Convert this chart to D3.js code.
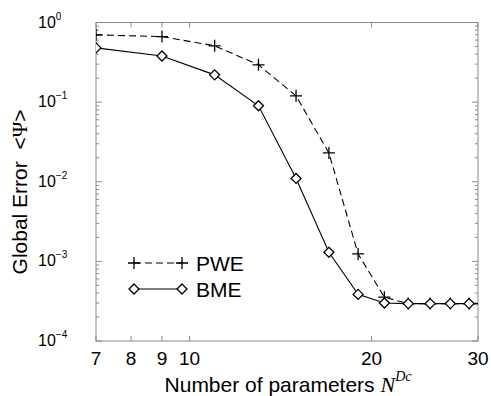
<!DOCTYPE html>
<html>
<head>
<meta charset="utf-8">
<title>Global error vs parameters</title>
<style>
  body { margin: 0; background: #fff; }
  text { font-family: "Liberation Sans", Arial, sans-serif; fill: #000; }
</style>
</head>
<body>
<script src="https://d3js.org/d3.v7.min.js"></script>
<script>

// data
var nParams = [7, 9, 11, 13, 15, 17, 19, 21, 23, 25, 27, 29, 31];
var pwe = [0.70, 0.665, 0.51, 0.294, 0.12, 0.023, 1.24e-3, 3.55e-4, 2.95e-4, 2.95e-4, 2.95e-4, 2.95e-4, 2.95e-4];
var bme = [0.48, 0.38, 0.22, 0.090, 0.011, 1.30e-3, 3.85e-4, 3.0e-4, 2.95e-4, 2.95e-4, 2.95e-4, 2.95e-4, 2.95e-4];
var xTicks = [7, 8, 9, 10, 20, 30];
var yTicks = [1, 1e-1, 1e-2, 1e-3, 1e-4];
var yExp = ["0", "\u22121", "\u22122", "\u22123", "\u22124"];

var width = 491, height = 396;
var pLeft = 96, pRight = 478, pTop = 22.5, pBottom = 341;

var svg = d3.select("body")
    .append("svg")
    .attr("width", width)
    .attr("height", height);

var x = d3.scaleLog().domain([7, 30]).range([pLeft, pRight]);
var y = d3.scaleLog().domain([1e-4, 1]).range([pBottom, pTop]);

svg.append("clipPath").attr("id", "clip")
  .append("rect")
    .attr("x", pLeft).attr("y", pTop)
    .attr("width", pRight - pLeft).attr("height", pBottom - pTop);

var axisCol = "#8a8a8a";

// frame
svg.append("rect")
    .attr("x", pLeft).attr("y", pTop)
    .attr("width", pRight - pLeft).attr("height", pBottom - pTop)
    .attr("fill", "none")
    .attr("stroke", axisCol)
    .attr("stroke-width", 1);

// x ticks, top and bottom
xTicks.forEach(function(t){
  svg.append("line").attr("x1", x(t)).attr("x2", x(t))
    .attr("y1", pBottom).attr("y2", pBottom - 5).attr("stroke", axisCol);
  svg.append("line").attr("x1", x(t)).attr("x2", x(t))
    .attr("y1", pTop).attr("y2", pTop + 5).attr("stroke", axisCol);
  svg.append("text")
    .attr("x", x(t)).attr("y", 365)
    .attr("text-anchor", "middle")
    .attr("font-size", 19)
    .text(t);
});

// y ticks, major and minor on both sides
var minor = [];
for (var e = -4; e < 0; e++) {
  for (var m = 2; m < 10; m++) minor.push(m * Math.pow(10, e));
}
minor.forEach(function(v){
  svg.append("line").attr("x1", pLeft).attr("x2", pLeft + 3)
    .attr("y1", y(v)).attr("y2", y(v)).attr("stroke", axisCol);
  svg.append("line").attr("x1", pRight).attr("x2", pRight - 3)
    .attr("y1", y(v)).attr("y2", y(v)).attr("stroke", axisCol);
});
yTicks.forEach(function(v, i){
  svg.append("line").attr("x1", pLeft).attr("x2", pLeft + 6)
    .attr("y1", y(v)).attr("y2", y(v)).attr("stroke", axisCol);
  svg.append("line").attr("x1", pRight).attr("x2", pRight - 6)
    .attr("y1", y(v)).attr("y2", y(v)).attr("stroke", axisCol);
  var lab = svg.append("text")
    .attr("x", 38).attr("y", y(v) + 5)
    .attr("font-size", 16);
  lab.append("tspan").text("10");
  lab.append("tspan").attr("dy", -8).attr("font-size", 10).text(yExp[i]);
});

// axis titles
var xl = svg.append("text")
    .attr("x", 288).attr("y", 392)
    .attr("text-anchor", "middle")
    .attr("font-size", 21);
xl.append("tspan").text("Number of parameters ");
xl.append("tspan").attr("font-family", "'Liberation Serif', serif")
    .attr("font-style", "italic").attr("font-size", 22).text("N");
xl.append("tspan").attr("font-family", "'Liberation Serif', serif")
    .attr("font-style", "italic").attr("font-size", 14).attr("dy", -11).text("Dc");

var yl = svg.append("text")
    .attr("transform", "translate(27,192) rotate(-90)")
    .attr("text-anchor", "middle")
    .attr("font-size", 21);
yl.append("tspan").text("Global Error\u00A0\u00A0<");
yl.append("tspan").attr("font-family", "'Liberation Serif', serif").text("\u03A8");
yl.append("tspan").text(">");

// series
var line = d3.line()
    .x(function(d){ return x(d[0]); })
    .y(function(d){ return y(d[1]); });

var pweData = nParams.map(function(n, i){ return [n, pwe[i]]; });
var bmeData = nParams.map(function(n, i){ return [n, bme[i]]; });

var g = svg.append("g").attr("clip-path", "url(#clip)");

g.append("path").datum(pweData)
    .attr("d", line)
    .attr("fill", "none").attr("stroke", "#000")
    .attr("stroke-width", 1.1)
    .attr("stroke-dasharray", "7,4");

g.append("path").datum(bmeData)
    .attr("d", line)
    .attr("fill", "none").attr("stroke", "#000")
    .attr("stroke-width", 1.1);

function plus(sel, cx, cy) {
  sel.append("path")
    .attr("d", "M" + (cx - 6) + "," + cy + "H" + (cx + 6) + "M" + cx + "," + (cy - 6) + "V" + (cy + 6))
    .attr("stroke", "#000").attr("stroke-width", 1.3).attr("fill", "none");
}
function diamond(sel, cx, cy) {
  sel.append("path")
    .attr("d", "M" + cx + "," + (cy - 5) + "L" + (cx + 5) + "," + cy + "L" + cx + "," + (cy + 5) + "L" + (cx - 5) + "," + cy + "Z")
    .attr("stroke", "#000").attr("stroke-width", 1.3).attr("fill", "#fff");
}

pweData.forEach(function(d){ plus(g, x(d[0]), y(d[1])); });
bmeData.forEach(function(d){ diamond(g, x(d[0]), y(d[1])); });

// legend
var ly1 = 263, ly2 = 289;
svg.append("line").attr("x1", 134).attr("x2", 182).attr("y1", ly1).attr("y2", ly1)
    .attr("stroke", "#000").attr("stroke-width", 1.1).attr("stroke-dasharray", "7,4");
plus(svg, 134, ly1); plus(svg, 182, ly1);
svg.append("text").attr("x", 196).attr("y", ly1 + 8).attr("font-size", 21).text("PWE");

svg.append("line").attr("x1", 134).attr("x2", 182).attr("y1", ly2).attr("y2", ly2)
    .attr("stroke", "#000").attr("stroke-width", 1.1);
diamond(svg, 134, ly2); diamond(svg, 182, ly2);
svg.append("text").attr("x", 196).attr("y", ly2 + 8).attr("font-size", 21).text("BME");

</script>
</body>
</html>
